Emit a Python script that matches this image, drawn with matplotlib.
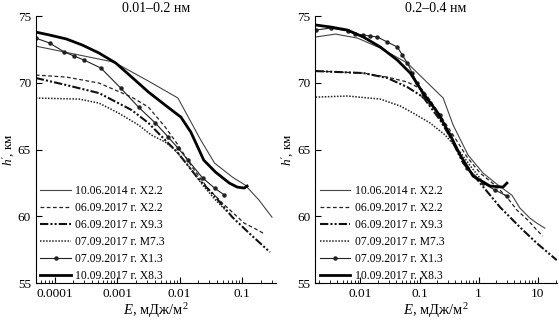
import matplotlib
matplotlib.use("Agg")
import matplotlib.pyplot as plt
from matplotlib.ticker import FixedLocator, FuncFormatter, LogLocator, NullFormatter

plt.rcParams['font.family'] = ['Liberation Serif', 'DejaVu Serif']
plt.rcParams['mathtext.fontset'] = 'custom'
plt.rcParams['mathtext.rm'] = 'Liberation Serif'
plt.rcParams['mathtext.it'] = 'Liberation Serif:italic'

labels = ["10.06.2014 г. X2.2", "06.09.2017 г. X2.2", "06.09.2017 г. X9.3",
          "07.09.2017 г. M7.3", "07.09.2017 г. X1.3", "10.09.2017 г. X8.3"]
titles = ["0.01–0.2 нм", "0.2–0.4 нм"]

# ---- left panel (0.01-0.2 nm) ----
L_A_E = [5.0e-5, 1.73e-4, 8.9e-4, 3.17e-3, 9.4e-3, 0.0218, 0.0362, 0.0698, 0.112, 0.186, 0.30]
L_A_h = [72.75, 72.23, 71.55, 70.13, 68.86, 65.71, 63.99, 62.94, 62.34, 61.22, 59.94]

L_B_E = [5.0e-5, 1.55e-4, 5.14e-4, 1.71e-3, 3.17e-3, 5.88e-3, 9.44e-3, 0.0163, 0.0281, 0.0485, 0.108, 0.155, 0.232]
L_B_h = [70.58, 70.43, 69.98, 68.93, 68.18, 66.69, 65.34, 63.61, 62.12, 60.99, 59.49, 59.12, 58.67]

L_C_E = [5.0e-5, 1.55e-4, 5.14e-4, 1.71e-3, 3.17e-3, 5.88e-3, 9.44e-3, 0.0195, 0.0376, 0.0698, 0.129, 0.278]
L_C_h = [70.36, 69.83, 69.23, 67.96, 66.99, 65.71, 64.74, 62.87, 61.44, 59.94, 58.75, 57.32]

L_D_E = [5.0e-5, 2.49e-4, 5.14e-4, 1.06e-3, 2.20e-3, 3.53e-3, 5.88e-3, 8.46e-3, 0.0136, 0.0234, 0.0376, 0.0582]
L_D_h = [68.86, 68.78, 68.48, 67.73, 66.84, 66.09, 65.56, 64.96, 63.84, 62.34, 61.22, 60.32]

L_E_E = [5.0e-5, 8.3e-5, 1.44e-4, 2.07e-4, 2.98e-4, 5.52e-4, 1.14e-3, 2.20e-3, 4.09e-3, 6.56e-3,
         9.44e-3, 0.0136, 0.0234, 0.0362, 0.0522]
L_E_h = [73.35, 72.98, 72.30, 72.00, 71.70, 71.10, 69.61, 68.18, 66.99, 65.94,
         65.11, 64.21, 62.87, 62.12, 61.59]

L_F_E = [5.0e-5, 8.3e-5, 1.55e-4, 2.77e-4, 5.14e-4, 9.53e-4, 1.71e-3, 3.17e-3, 5.88e-3, 0.0105,
         0.0151, 0.0195, 0.0243, 0.0376, 0.0625, 0.0838, 0.108, 0.120]
L_F_h = [73.80, 73.58, 73.28, 72.83, 72.23, 71.48, 70.43, 69.31, 68.33, 67.43,
         66.31, 65.19, 64.21, 63.31, 62.49, 62.19, 62.12, 62.27]

# ---- right panel (0.2-0.4 nm) ----
R_A_E = [0.00174, 0.00379, 0.0089, 0.0217, 0.0621, 0.251, 0.370, 0.662, 1.19, 2.13, 3.66, 4.99, 7.36, 9.66, 13.2]
R_A_h = [73.43, 73.65, 73.35, 72.60, 71.48, 68.86, 66.84, 64.59, 63.24, 62.34, 61.59, 60.62, 59.87, 59.49, 59.12]

R_B_E = [0.00174, 0.0112, 0.0285, 0.0621, 0.115, 0.223, 0.370, 0.637, 1.06, 1.89, 3.01, 4.44, 6.81, 9.66, 12.2]
R_B_h = [70.88, 70.73, 70.43, 70.06, 69.46, 67.58, 66.09, 64.44, 63.24, 62.34, 61.44, 60.47, 59.72, 58.97, 58.52]

R_C_E = [0.00174, 0.0112, 0.0285, 0.0621, 0.115, 0.223, 0.330, 0.546, 1.06, 2.30, 4.99, 9.66, 21.0]
R_C_h = [70.88, 70.73, 70.36, 69.68, 68.93, 67.21, 65.94, 63.99, 62.49, 60.69, 59.19, 57.99, 56.72]

R_D_E = [0.00174, 0.00604, 0.0217, 0.0473, 0.0783, 0.151, 0.271, 0.486, 0.774, 1.19]
R_D_h = [68.93, 69.01, 68.78, 68.26, 67.73, 66.99, 66.09, 64.81, 63.61, 62.57]

R_E_E = [0.00174, 0.00312, 0.00604, 0.0082, 0.0112, 0.0147, 0.0194, 0.0285, 0.0421, 0.0511, 0.0621,
         0.0753, 0.0915, 0.115, 0.151, 0.223, 0.330, 0.637, 1.19, 1.89, 3.01]
R_E_h = [73.95, 74.10, 73.88, 73.65, 73.58, 73.50, 73.43, 73.05, 72.68, 72.08, 71.48,
         70.73, 69.98, 69.01, 68.48, 67.58, 66.09, 63.61, 62.49, 61.97, 61.52]

R_F_E = [0.00174, 0.00312, 0.00604, 0.0112, 0.0217, 0.0421, 0.0697, 0.115, 0.199, 0.330,
         0.486, 0.805, 1.56, 2.58, 3.01]
R_F_h = [74.33, 74.18, 73.95, 73.43, 72.68, 71.70, 70.73, 69.23, 67.81, 66.09,
         64.59, 63.01, 62.27, 62.19, 62.49]

left_series = [(L_A_E, L_A_h), (L_B_E, L_B_h), (L_C_E, L_C_h), (L_D_E, L_D_h), (L_E_E, L_E_h), (L_F_E, L_F_h)]
right_series = [(R_A_E, R_A_h), (R_B_E, R_B_h), (R_C_E, R_C_h), (R_D_E, R_D_h), (R_E_E, R_E_h), (R_F_E, R_F_h)]

left_ticks = [0.0001, 0.001, 0.01, 0.1]
right_ticks = [0.01, 0.1, 1, 10]
y_ticks = [55, 60, 65, 70, 75]

styles = [
    dict(color='#444444', lw=0.8, ls='-'),
    dict(color='#222222', lw=0.9, ls=(0, (3, 2))),
    dict(color='#111111', lw=1.5, ls=(0, (4, 1, 1, 1, 1, 1))),
    dict(color='#222222', lw=1.1, ls=(0, (1, 1))),
    dict(color='#222222', lw=0.8, ls='-', marker='o', ms=2.2),
    dict(color='#000000', lw=2.0, ls='-'),
]

fig = plt.figure(figsize=(5.59, 3.21), dpi=100)
axL = fig.add_axes([0.064, 0.118, 0.430, 0.832])
axR = fig.add_axes([0.5635, 0.118, 0.4325, 0.832])

panels = [(axL, left_series, (5e-5, 0.35), left_ticks, titles[0]),
          (axR, right_series, (0.0017, 21), right_ticks, titles[1])]

for ax, series, xlim, xt, title in panels:
    for (E, h), st, lab in zip(series, styles, labels):
        ax.plot(E, h, label=lab, **st)
    ax.set_xscale('log')
    ax.set_xlim(*xlim)
    ax.set_ylim(55, 75)
    ax.xaxis.set_major_locator(FixedLocator(xt))
    ax.xaxis.set_major_formatter(FuncFormatter(lambda v, p: '%g' % v))
    ax.xaxis.set_minor_locator(LogLocator(base=10, subs=range(2, 10), numticks=20))
    ax.xaxis.set_minor_formatter(NullFormatter())
    ax.set_yticks(y_ticks)
    for s in ['top', 'right']:
        ax.spines[s].set_visible(False)
    ax.tick_params(axis='both', which='major', direction='in', length=4, labelsize=9.5, width=0.8)
    ax.tick_params(axis='x', which='minor', direction='in', length=2, width=0.6)
    ax.set_title(title, fontsize=10, pad=3)
    ax.set_xlabel("$E$, мДж/м$^2$", fontsize=10.5, labelpad=0.5)
    ax.set_ylabel("$h'$, км", fontsize=9.5, labelpad=0.5)
    leg = ax.legend(loc='lower left', frameon=False, fontsize=8.4, handlelength=2.6,
                    handletextpad=0.4, labelspacing=0.42, borderaxespad=0.0,
                    bbox_to_anchor=(0.0, -0.012))

fig.savefig('out.png', dpi=100)
